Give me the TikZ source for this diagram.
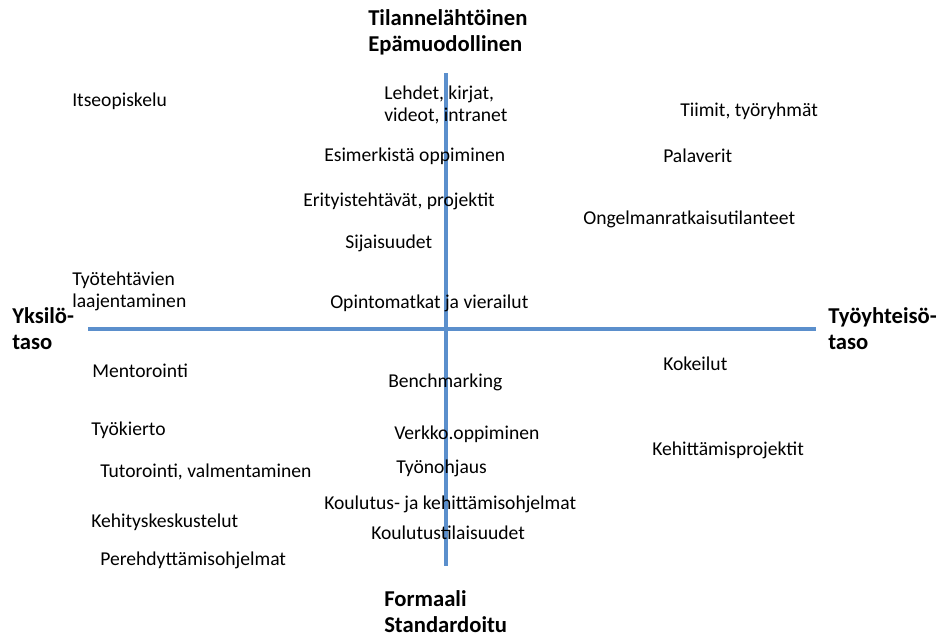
\documentclass[tikz,border=0pt]{standalone}
\usepackage{fontspec}
\setmainfont{Carlito}
\definecolor{axisblue}{RGB}{91,143,204}
\begin{document}
\begin{tikzpicture}[x=0.75pt,y=-0.75pt,
  item/.style={anchor=west,inner sep=0pt,align=left,font=\fontsize{14.7}{16.5}\selectfont},
  pole/.style={anchor=west,inner sep=0pt,align=left,font=\fontsize{17}{19.5}\selectfont\bfseries},
  axis/.style={draw=axisblue,line width=2.6pt}]
\useasboundingbox (0,0) rectangle (938,637);
% axes
\coordinate (vtop) at (446,73);
\coordinate (vbot) at (446,566);
\coordinate (hleft) at (88,329);
\coordinate (hright) at (816,329);
\draw[axis] (hleft) -- (hright);
\draw[axis] (vtop) -- (vbot);
% poles
\node[pole] (ptop) at (368,32) {Tilannelähtöinen\\Epämuodollinen};
\node[pole] (pbot) at (384,612) {Formaali\\Standardoitu};
\node[pole] (pleft) at (12,329) {Yksilö-\\taso};
\node[pole] (pright) at (828,329) {Työyhteisö-\\taso};
% upper half
\node[item] (n1) at (72,101) {Itseopiskelu};
\node[item] (n2) at (384,105) {Lehdet, kirjat,\\videot, intranet};
\node[item] (n3) at (324,156) {Esimerkistä oppiminen};
\node[item] (n4) at (303,201) {Erityistehtävät, projektit};
\node[item] (n5) at (345,243) {Sijaisuudet};
\node[item] (n6) at (72,291) {Työtehtävien\\laajentaminen};
\node[item] (n7) at (330,303) {Opintomatkat ja vierailut};
\node[item] (n8) at (680,111) {Tiimit, työryhmät};
\node[item] (n9) at (663,156) {Palaverit};
\node[item] (n10) at (583,219) {Ongelmanratkaisutilanteet};
% lower half
\node[item] (n11) at (92,371) {Mentorointi};
\node[item] (n12) at (388,382) {Benchmarking};
\node[item] (n13) at (663,364) {Kokeilut};
\node[item] (n14) at (91,430) {Työkierto};
\node[item] (n15) at (394,434) {Verkko.oppiminen};
\node[item] (n16) at (652,450) {Kehittämisprojektit};
\node[item] (n17) at (100,472) {Tutorointi, valmentaminen};
\node[item] (n18) at (396,468) {Työnohjaus};
\node[item] (n19) at (324,504) {Koulutus- ja kehittämisohjelmat};
\node[item] (n20) at (91,522) {Kehityskeskustelut};
\node[item] (n21) at (371,533) {Koulutustilaisuudet};
\node[item] (n22) at (100,560) {Perehdyttämisohjelmat};
\end{tikzpicture}
\end{document}
